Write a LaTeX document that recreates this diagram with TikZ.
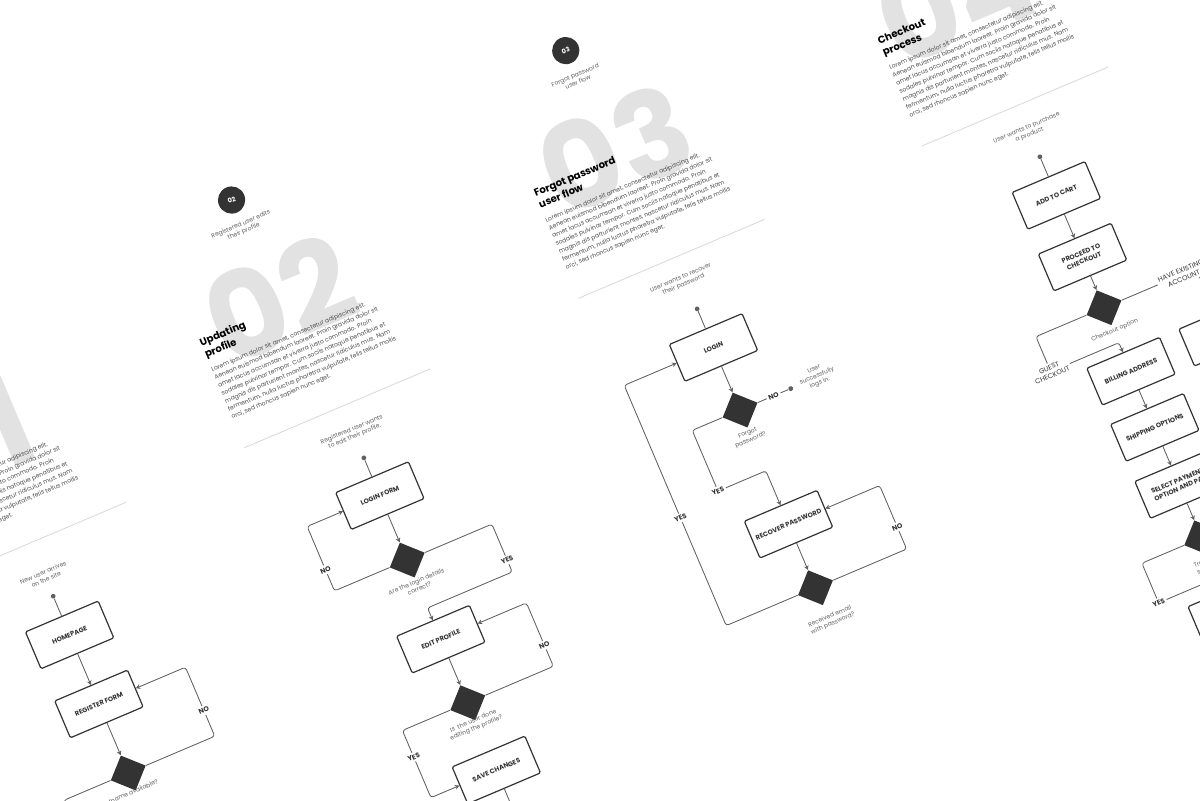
\documentclass[tikz,border=0pt]{standalone}
\usepackage{fontspec}
\setmainfont{Poppins}
\usetikzlibrary{shapes.geometric,arrows.meta}

\definecolor{inkdark}{HTML}{333333}
\definecolor{inkgrey}{HTML}{606060}
\definecolor{notegrey}{HTML}{5E5E5E}
\definecolor{paragrey}{HTML}{4A4A4A}
\definecolor{dividergrey}{HTML}{DADADA}
\definecolor{numgrey}{HTML}{E2E2E2}

\newcommand{\loremlines}{Lorem ipsum dolor sit amet, consectetur adipiscing elit.\\
Aenean euismod bibendum laoreet. Proin gravida dolor sit\\
amet lacus accumsan et viverra justo commodo. Proin\\
sodales pulvinar tempor. Cum sociis natoque penatibus et\\
magnis dis parturient montes, nascetur ridiculus mus. Nam\\
fermentum, nulla luctus pharetra vulputate, felis tellus mollis\\
orci, sed rhoncus sapien nunc eget.}

\tikzset{
  stepbox/.style={draw=inkdark, line width=0.85pt, fill=white, rounded corners=1pt,
    minimum width=1.975cm, minimum height=1cm, inner sep=1pt, align=center,
    text=inkdark, font=\fontsize{4.7}{5.7}\selectfont\bfseries},
  choice/.style={diamond, fill=inkdark, minimum width=0.95cm, minimum height=0.95cm, inner sep=0pt},
  flow/.style={draw=inkgrey, line width=0.6pt, rounded corners=2pt, -{Stealth[length=3.2pt,width=3.4pt]}},
  link/.style={draw=inkgrey, line width=0.6pt, rounded corners=2pt},
  answer/.style={fill=white, inner sep=1.5pt, align=center, text=inkdark,
    font=\fontsize{4.9}{5.9}\selectfont\bfseries},
  note/.style={align=center, inner sep=0pt, text=notegrey, font=\fontsize{4.3}{5.3}\selectfont},
  startdot/.style={circle, fill=inkgrey, inner sep=0pt, minimum size=3.4pt},
  badge/.style={circle, fill=inkdark, inner sep=0pt, minimum size=0.68cm, text=white,
    font=\fontsize{4.6}{5}\selectfont\bfseries},
  bignum/.style={inner sep=0pt, text=numgrey, font=\fontsize{86}{86}\selectfont\bfseries},
  headline/.style={anchor=base west, inner sep=0pt, text=black, font=\fontsize{7.2}{8}\selectfont\bfseries},
  para/.style={anchor=north west, align=left, inner sep=0pt, text=paragrey, font=\fontsize{4.3}{6.1}\selectfont},
  divider/.style={draw=dividergrey, line width=0.6pt}
}

\begin{document}
\begin{tikzpicture}[x=0.025cm, y=0.025cm]
% Page frame (1200 x 800)
\useasboundingbox (0,0) rectangle (1200,800);
\fill[white] (0,0) rectangle (1200,800);
\clip (0,0) rectangle (1200,800);

\begin{scope}[shift={(600,400)}, rotate=23, transform shape]

% ---- Panel 01: sign up ----
\node[bignum] (big01) at (-596,213) {01};
\node[para] (text01) at (-693,178.5) {\loremlines};
\draw[divider] (-678,91) -- (-476,91);
\node[note] (cap01) at (-580,55) {New user arrives\\on the site};
\node[startdot] (dot01) at (-580,33) {};
\node[stepbox] (homepage) at (-580,-9) {HOMEPAGE};
\node[stepbox] (register) at (-580,-84) {REGISTER FORM};
\node[choice] (username) at (-580,-159) {};
\node[note] (askname) at (-588,-178) {Username available?};
\coordinate (noturn01) at (-486,-131);
\coordinate (yesturn01) at (-650,-260);
\draw[link] (dot01) -- (homepage);
\draw[flow] (homepage) -- (register);
\draw[flow] (register) -- (username);
\draw[flow] (username.east) -| (noturn01) node[answer] (no01) {NO} |- (register.east);
\draw[link] (username.west) -| (yesturn01);

% ---- Panel 02: updating profile ----
\node[bignum] (big02) at (-256,218) {02};
\node[badge] (badge02) at (-261,328) {02};
\node[note] (title02) at (-262,298) {Registered user edits\\their profile};
\node[headline] (head02a) at (-346,205) {Updating};
\node[headline] (head02b) at (-346,192.5) {profile};
\node[para] (text02) at (-346,182.5) {\loremlines};
\draw[divider] (-346,95) -- (-144,95);
\node[note] (cap02) at (-240,66) {Registered user wants\\to edit their profile.};
\node[startdot] (dot02) at (-240,39) {};
\node[stepbox] (loginform) at (-240,-2) {LOGIN FORM};
\node[choice] (detailsok) at (-240,-72) {};
\node[note] (askdetails) at (-240,-99) {Are the login details\\correct?};
\node[stepbox] (editprofile) at (-240,-158) {EDIT PROFILE};
\node[choice] (donecheck) at (-240,-227) {};
\node[note] (askdone) at (-242,-250) {Is\ \ the user done\\editing the profile?};
\node[stepbox] (savechanges) at (-240,-300) {SAVE CHANGES};
\node[stepbox] (nextstep02) at (-240,-372) {};
\coordinate (noturn02) at (-319,-49);
\coordinate (yesturn02) at (-148,-111);
\coordinate (yesdrop02) at (-240,-124);
\coordinate (noturn02b) at (-147,-204);
\coordinate (yesturn02b) at (-311,-256);
\draw[link] (dot02) -- (loginform);
\draw[flow] (loginform) -- (detailsok);
\draw[flow] (detailsok.west) -| (noturn02) node[answer] (no02) {NO} |- (loginform.west);
\draw[flow] (detailsok.east) -| (yesturn02) node[answer] (yes02) {YES} |- (yesdrop02) -- (editprofile.north);
\draw[flow] (editprofile) -- (donecheck);
\draw[flow] (donecheck.east) -| (noturn02b) node[answer] (no02b) {NO} |- (editprofile.east);
\draw[flow] (donecheck.west) -| (yesturn02b) node[answer] (yes02b) {YES} |- (savechanges.west);
\draw[flow] (savechanges) -- (nextstep02);

% ---- Panel 03: forgot password ----
\node[bignum] (big03) at (112,225) {03};
\node[badge] (badge03) at (105,335) {03};
\node[note] (title03) at (104,305) {Forgot password\\user flow};
\node[headline] (head03a) at (20,212) {Forgot password};
\node[headline] (head03b) at (20,199.5) {user flow};
\node[para] (text03) at (20,189.5) {\loremlines};
\draw[divider] (20,102) -- (222,102);
\node[note] (cap03) at (122,77) {User wants to recover\\their password};
\node[startdot] (dot03) at (125,46) {};
\node[stepbox] (login) at (125,4) {LOGIN};
\node[choice] (forgot) at (125,-64) {};
\node[note] (askforgot) at (123,-92) {Forgot\\password?};
\node[startdot] (loggedin) at (180,-64) {};
\node[note] (caplogged) at (209,-63) {User\\successfully\\logs in.};
\node[stepbox] (recover) at (125,-188) {RECOVER PASSWORD};
\node[choice] (received) at (125,-257) {};
\node[note] (askreceived) at (127,-293) {Received email\\with password?};
\coordinate (yesturn03) at (73,-130);
\coordinate (yesdrop03) at (125,-130);
\coordinate (noturn03) at (224,-233);
\coordinate (yesturn03b) at (28,-140);
\draw[link] (dot03) -- (login);
\draw[flow] (login) -- (forgot);
\draw[link] (forgot.east) -- node[answer, pos=0.52] (no03) {NO} (loggedin);
\draw[flow] (forgot.west) -| (yesturn03) node[answer] (yes03) {YES} |- (yesdrop03) -- (recover.north);
\draw[flow] (recover) -- (received);
\draw[flow] (received.east) -| (noturn03) node[answer] (no03b) {NO} |- (recover.east);
\draw[flow] (received.west) -| (yesturn03b) node[answer] (yes03b) {YES} |- (login.west);

% ---- Panel 04: checkout ----
\node[bignum] (big04) at (486,231) {04};
\node[headline] (head04a) at (396,218) {Checkout};
\node[headline] (head04b) at (396,205.5) {process};
\node[para] (text04) at (396,195.5) {\loremlines};
\draw[divider] (396,108) -- (598,108);
\node[note] (cap04) at (499,80) {User wants to purchase\\a product};
\node[startdot] (dot04) at (500,52) {};
\node[stepbox] (addcart) at (500,10) {ADD TO CART};
\node[stepbox] (proceed) at (500,-57) {PROCEED TO\\CHECKOUT};
\node[choice] (checkoutopt) at (500,-112) {};
\node[note] (askcheckout) at (501,-137) {Checkout option};
\node[stepbox] (billing) at (500,-181) {BILLING ADDRESS};
\node[stepbox] (existbox) at (600,-181) {};
\node[stepbox] (shipping) at (500,-242) {SHIPPING OPTIONS};
\node[stepbox] (payment) at (500,-304) {SELECT PAYMENT\\OPTION AND PAY};
\node[choice] (paid) at (500,-362) {};
\node[note] (askpaid) at (500,-388) {Transaction\\successful?};
\node[stepbox] (confirm) at (500,-440) {};
\coordinate (guestturn) at (426,-150);
\coordinate (guestdrop) at (500,-150);
\coordinate (yesturn04) at (435,-405);
\coordinate (yesdrop04) at (500,-405);
\draw[link] (dot04) -- (addcart);
\draw[flow] (addcart) -- (proceed);
\draw[flow] (proceed) -- (checkoutopt);
\draw[flow] (checkoutopt.west) -| (guestturn) node[answer, font=\fontsize{4.9}{5.9}\selectfont] (guest) {GUEST\\CHECKOUT} |- (guestdrop) -- (billing.north);
\draw[flow] (checkoutopt.east) -| (existbox.north);
\node[answer, font=\fontsize{4.9}{5.9}\selectfont] (existing) at (585,-112) {HAVE EXISTING\\ACCOUNT};
\draw[flow] (billing) -- (shipping);
\draw[flow] (shipping) -- (payment);
\draw[flow] (payment) -- (paid);
\draw[flow] (paid.west) -| (yesturn04) node[answer] (yes04) {YES} |- (yesdrop04) -- (confirm.north);

\end{scope}
\end{tikzpicture}
\end{document}
